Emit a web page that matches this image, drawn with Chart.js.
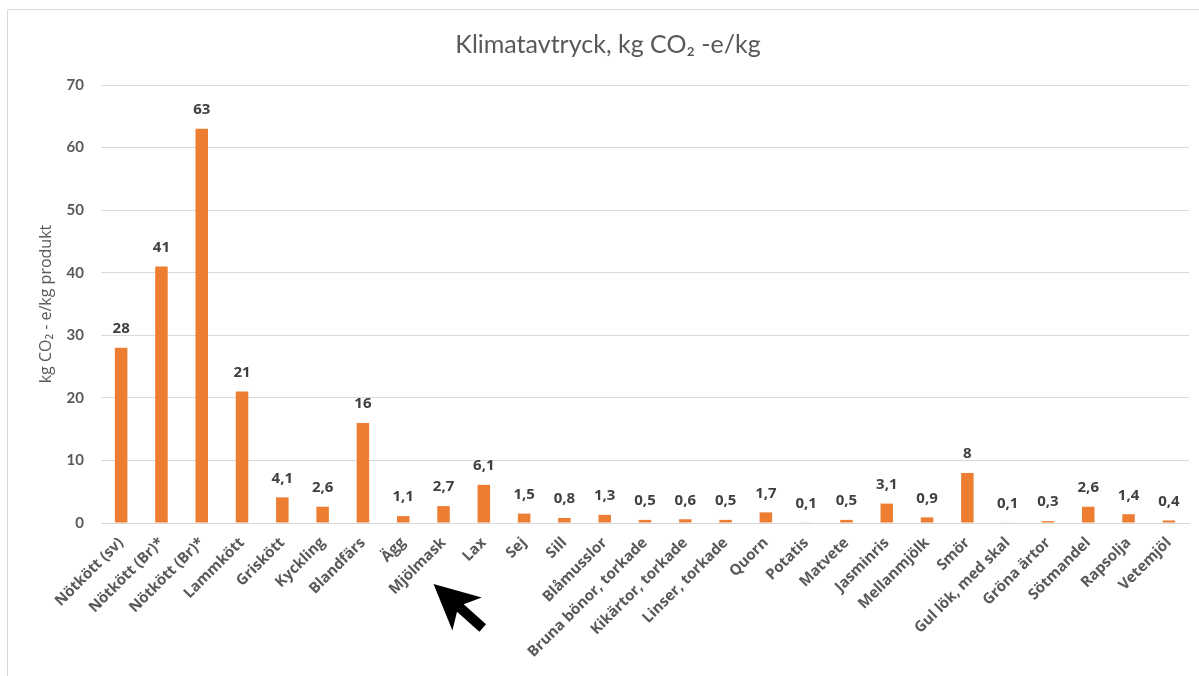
<!DOCTYPE html>
<html lang="sv">
<head>
<meta charset="utf-8">
<title>Klimatavtryck</title>
<script src="https://cdn.jsdelivr.net/npm/chart.js@4.4.1/dist/chart.umd.min.js"></script>
<style>
  html, body { margin: 0; padding: 0; background: #ffffff; }
  #wrap { position: relative; width: 1199px; height: 676px; }
  canvas { display: block; }
</style>
</head>
<body>
<div id="wrap"><canvas id="chart" width="1199" height="676"></canvas></div>
<script>
// Livsmedel och deras klimatavtryck (kg CO2-e per kg produkt)
const categories = [
  'Nötkött (sv)', 'Nötkött (Br)*', 'Nötkött (Br)*', 'Lammkött', 'Griskött',
  'Kyckling', 'Blandfärs', 'Ägg', 'Mjölmask', 'Lax', 'Sej', 'Sill',
  'Blåmusslor', 'Bruna bönor, torkade', 'Kikärtor, torkade', 'Linser, torkade',
  'Quorn', 'Potatis', 'Matvete', 'Jasminris', 'Mellanmjölk', 'Smör',
  'Gul lök, med skal', 'Gröna ärtor', 'Sötmandel', 'Rapsolja', 'Vetemjöl'
];
const footprint = [
  28, 41, 63, 21, 4.1,
  2.6, 16, 1.1, 2.7, 6.1, 1.5, 0.8,
  1.3, 0.5, 0.6, 0.5,
  1.7, 0.1, 0.5, 3.1, 0.9, 8,
  0.1, 0.3, 2.6, 1.4, 0.4
];
const yTicks = [0, 10, 20, 30, 40, 50, 60, 70];

const chartTitle = 'Klimatavtryck, kg CO\u2082 -e/kg';
const yTitle = 'kg CO\u2082 - e/kg produkt';

const LATO = 'Lato, "Open Sans", sans-serif';
const OPEN = '"Open Sans", Lato, sans-serif';
const GREY = '#595959';

const fmt = v => String(v).replace('.', ',');

// Frame lines, title, value labels and the mouse pointer
const decorations = {
  id: 'decorations',
  beforeDraw(chart) {
    const ctx = chart.ctx;
    ctx.save();
    ctx.strokeStyle = '#d9d9d9';
    ctx.lineWidth = 1;
    ctx.beginPath();
    ctx.moveTo(7.5, chart.height);
    ctx.lineTo(7.5, 9.5);
    ctx.lineTo(chart.width, 9.5);
    ctx.stroke();

    ctx.fillStyle = GREY;
    ctx.font = '25px ' + LATO;
    ctx.textAlign = 'center';
    ctx.textBaseline = 'middle';
    ctx.fillText(chartTitle, 608, 45);
    ctx.restore();
  },
  afterDatasetsDraw(chart) {
    const ctx = chart.ctx;
    const meta = chart.getDatasetMeta(0);
    ctx.save();
    ctx.fillStyle = '#404040';
    ctx.font = 'bold 15px ' + OPEN;
    ctx.textAlign = 'center';
    ctx.textBaseline = 'middle';
    meta.data.forEach((bar, i) => {
      ctx.fillText(fmt(footprint[i]), bar.x, bar.y - 19);
    });
    ctx.restore();
  },
  afterDraw(chart) {
    // arrow pointer resting below the "Mjölmask" label
    const ctx = chart.ctx;
    const xs = chart.scales.x;
    const tipX = xs.getPixelForValue(8) - 10;
    const tipY = chart.chartArea.bottom + 61;
    const ang = Math.atan2(42, 47);
    const pts = [[0, 0], [45, -22], [36, -5], [66, -5], [66, 5], [36, 5], [45, 22]];
    ctx.save();
    ctx.translate(tipX, tipY);
    ctx.rotate(ang);
    ctx.fillStyle = '#000000';
    ctx.beginPath();
    pts.forEach(([u, v], k) => k ? ctx.lineTo(u, v) : ctx.moveTo(u, v));
    ctx.closePath();
    ctx.fill();
    ctx.restore();
  }
};

new Chart(document.getElementById('chart'), {
  type: 'bar',
  data: {
    labels: categories,
    datasets: [{
      data: footprint,
      backgroundColor: '#ed7d31',
      borderWidth: 0,
      barPercentage: 0.31,
      categoryPercentage: 1.0
    }]
  },
  options: {
    responsive: false,
    animation: false,
    events: [],
    layout: { padding: { top: 85, right: 10, bottom: 0, left: 0 } },
    plugins: {
      legend: { display: false },
      title: { display: false },
      tooltip: { enabled: false }
    },
    scales: {
      x: {
        grid: { display: false, drawTicks: false },
        border: { color: '#d9d9d9', width: 1 },
        ticks: {
          color: GREY,
          font: { family: OPEN, size: 15, weight: 'bold' },
          maxRotation: 45,
          minRotation: 45,
          autoSkip: false,
          padding: 11
        },
        afterFit(scale) { scale.height = 153; }
      },
      y: {
        min: 0,
        max: 70,
        afterBuildTicks(scale) { scale.ticks = yTicks.map(v => ({ value: v })); },
        grid: { color: '#d9d9d9', drawTicks: false },
        border: { display: false },
        ticks: {
          color: GREY,
          font: { family: LATO, size: 15, weight: 'bold' },
          padding: 17
        },
        title: {
          display: true,
          text: yTitle,
          color: GREY,
          font: { family: OPEN, size: 16, weight: 'normal' },
          padding: { top: 37, bottom: 0 }
        },
        afterFit(scale) { scale.width = 101; }
      }
    }
  },
  plugins: [decorations]
});
</script>
</body>
</html>
